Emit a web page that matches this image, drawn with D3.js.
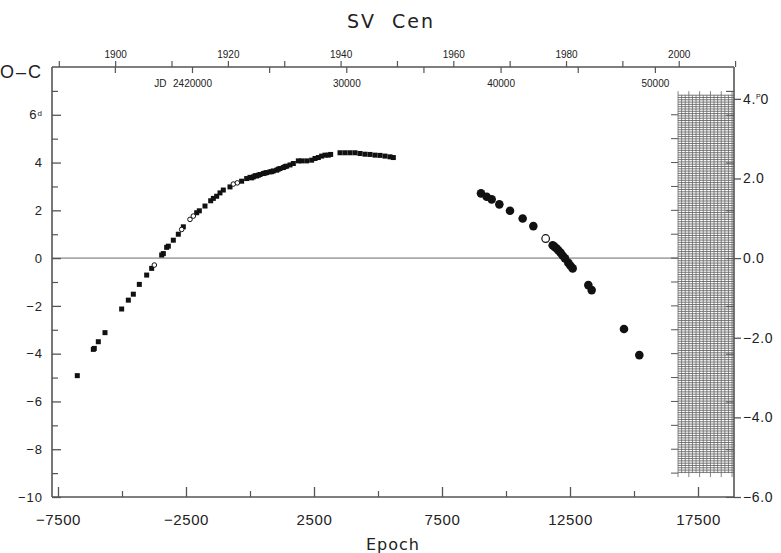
<!DOCTYPE html>
<html>
<head>
<meta charset="utf-8">
<script src="https://cdn.jsdelivr.net/npm/d3@7"></script>
<style>
  body { margin: 0; background: #fff; }
  svg { display: block; font-family: "Liberation Sans", Arial, sans-serif; }
  .axis path, .axis line { stroke: #555; }
  .axis text { fill: #222; }
</style>
</head>
<body>
<div id="chart"></div>
<script>
// filled squares (epoch, O-C in days)
var sqEpoch = [-6746, -6120, -6082, -5925, -5664, -5013, -4752, -4557, -4323, -4036, -3841, -3450, -3385,
  -3255, -3190, -2995, -2800, -2604, -2083, -1979, -1758, -1536, -1432, -1302, -1172, -1042, -781, -326,
  -130, 0, 65, 130, 200, 260, 325, 391, 521, 585, 651, 781, 850, 911, 1042, 1100, 1172, 1302, 1370, 1432,
  1563, 1693, 1888, 2018, 2214, 2409, 2539, 2669, 2799, 2930, 3060, 3150, 3516, 3711, 3906, 4102, 4297,
  4492, 4688, 4883, 5078, 5273, 5469, 5599];
var sqOC = [-4.92, -3.82, -3.78, -3.50, -3.12, -2.13, -1.76, -1.51, -1.10, -0.71, -0.43, 0.13, 0.19,
  0.45, 0.50, 0.75, 1.00, 1.31, 1.90, 1.98, 2.18, 2.40, 2.50, 2.59, 2.73, 2.85, 2.98, 3.22,
  3.33, 3.38, 3.36, 3.40, 3.45, 3.44, 3.47, 3.50, 3.54, 3.56, 3.58, 3.61, 3.62, 3.65, 3.68, 3.72, 3.75, 3.79, 3.83, 3.85,
  3.90, 3.96, 4.07, 4.07, 4.07, 4.10, 4.17, 4.21, 4.27, 4.31, 4.31, 4.34, 4.41, 4.41, 4.41, 4.41, 4.38,
  4.35, 4.34, 4.31, 4.30, 4.27, 4.24, 4.21];

// open (small) symbols
var openEpoch = [-3737, -2669, -2344, -2214, -651, -495];
var openOC = [-0.29, 1.20, 1.62, 1.76, 3.10, 3.15];

// big filled circles
var circEpoch = [9023, 9245, 9440, 9740, 10156, 10651, 11068, 11823, 11900, 11979, 12050, 12135, 12220,
  12305, 12435, 12520, 12604, 13216, 13346, 14609, 15208];
var circOC = [2.71, 2.57, 2.46, 2.25, 1.98, 1.66, 1.34, 0.54, 0.47, 0.40, 0.32, 0.22, 0.10,
  -0.01, -0.20, -0.32, -0.43, -1.13, -1.34, -2.97, -4.06];

// big open circle
var bigOpenEpoch = [11549];
var bigOpenOC = [0.82];

// tick values
var xMajor = [-7500, -2500, 2500, 7500, 12500, 17500];
var xMinor = [-5000, 0, 5000, 10000, 15000];
var yMajor = [-10, -8, -6, -4, -2, 0, 2, 4, 6];
var yMinor = [-9, -7, -5, -3, -1, 1, 3, 5, 7];
var rMajor = [-6, -4, -2, 0, 2, 4];
var years = [1890, 1900, 1910, 1920, 1930, 1940, 1950, 1960, 1970, 1980, 1990, 2000, 2010];
var yearLabels = [1900, 1920, 1940, 1960, 1980, 2000];
var jdTicks = [2415000, 2420000, 2425000, 2430000, 2435000, 2440000, 2445000, 2450000];
var jdLabels = [2420000, 2430000, 2440000, 2450000];

// ephemeris used for the top axes
var T0 = 2423759, P = 1.6592;

var W = 781, H = 553;
var margin = {top: 67, right: 47, bottom: 56, left: 52},
    width = W - margin.left - margin.right,
    height = H - margin.top - margin.bottom;

var svg = d3.select('#chart').append('svg')
    .attr('width', W).attr('height', H);
var g = svg.append('g').attr('transform', `translate(${margin.left},${margin.top})`);

var x = d3.scaleLinear().domain([-7734, 18906]).range([0, width]);
var y = d3.scaleLinear().domain([-10, 8]).range([height, 0]);
var yR = d3.scaleLinear().domain([-6, 4.8]).range([height, 0]);

var epochOfJD = function(jd) { return (jd - T0) / P; };
var jdOfYear = function(yr) { return 2415020.5 + (yr - 1900) * 365.25; };
var jdScale = d3.scaleLinear()
    .domain(x.domain().map(function(e) { return T0 + e * P; }))
    .range([0, width]);
var yearScale = d3.scaleLinear()
    .domain(x.domain().map(function(e) { return 1900 + (T0 + e * P - 2415020.5) / 365.25; }))
    .range([0, width]);

// zero line
g.append('line')
    .attr('x1', 0).attr('x2', width)
    .attr('y1', y(0)).attr('y2', y(0))
    .style('stroke', '#aaa').style('stroke-width', 1.6);

// hatched region on the right
var hx0 = x(16720), hx1 = width, hy0 = y(6.82), hy1 = y(-9.0);
var hatch = g.append('g');
hatch.append('rect')
    .attr('x', hx0).attr('y', hy0).attr('width', hx1 - hx0).attr('height', hy1 - hy0)
    .style('fill', '#fff');
d3.range(hy0, hy1 + 0.1, 2.3).forEach(function(v) {
    hatch.append('line').attr('x1', hx0).attr('x2', hx1).attr('y1', v).attr('y2', v)
        .style('stroke', '#555').style('stroke-width', 0.8);
});
d3.range(hx0, hx1, 3.6).forEach(function(v, i) {
    var ext = (i % 3 == 0) ? 4 : 0;
    hatch.append('line').attr('x1', v).attr('x2', v).attr('y1', hy0 - ext).attr('y2', hy1 + ext)
        .style('stroke', '#666').style('stroke-width', 0.8);
});
d3.range(-9, 7).forEach(function(v) {
    hatch.append('line').attr('x1', hx0 - 7).attr('x2', hx0).attr('y1', y(v)).attr('y2', y(v))
        .style('stroke', '#555').style('stroke-width', 1);
});

// frame lines
var frame = g.append('g').style('stroke', '#555').style('stroke-width', 1.6);
frame.append('line').attr('x1', 0).attr('x2', width).attr('y1', 0).attr('y2', 0);
frame.append('line').attr('x1', 0).attr('x2', width).attr('y1', height).attr('y2', height);
frame.append('line').attr('x1', 0).attr('x2', 0).attr('y1', 0).attr('y2', height);
frame.append('line').attr('x1', width).attr('x2', width).attr('y1', 0).attr('y2', height);

var clean = function(sel) { sel.select('.domain').remove(); };

// left axis
g.append('g').attr('class', 'axis')
    .style('font-size', '13px')
    .call(d3.axisLeft(y).tickValues(yMajor).tickSize(-9).tickPadding(9))
    .call(clean)
    .call(function(s) {
        s.selectAll('line').style('stroke-width', 1.3);
        s.selectAll('text').style('letter-spacing', '1px');
        s.selectAll('.tick').filter(function(d) { return d == 6; }).select('text')
            .append('tspan').attr('dy', '-0.45em').style('font-size', '8px').text('d');
    });
g.append('g').attr('class', 'axis')
    .call(d3.axisLeft(y).tickValues(yMinor).tickSize(-6).tickFormat(''))
    .call(clean)
    .selectAll('line').style('stroke-width', 1.2);

// bottom axis
g.append('g').attr('class', 'axis')
    .attr('transform', `translate(0,${height})`)
    .style('font-size', '15px')
    .call(d3.axisBottom(x).tickValues(xMajor).tickSize(-10).tickPadding(17).tickFormat(d3.format('d')))
    .call(clean)
    .call(function(s) {
        s.selectAll('line').style('stroke-width', 1.3);
        s.selectAll('text').style('letter-spacing', '0.6px');
    });
g.append('g').attr('class', 'axis')
    .attr('transform', `translate(0,${height})`)
    .call(d3.axisBottom(x).tickValues(xMinor).tickSize(-6).tickFormat(''))
    .call(clean)
    .selectAll('line').style('stroke-width', 1.2);

// right axis: inner ticks in days, outer labels in periods
g.append('g').attr('class', 'axis')
    .attr('transform', `translate(${width},0)`)
    .call(d3.axisRight(y).tickValues(yMajor.concat([7])).tickSize(-8).tickFormat(''))
    .call(clean)
    .selectAll('line').style('stroke-width', 1.1);
g.append('g').attr('class', 'axis')
    .attr('transform', `translate(${width},0)`)
    .style('font-size', '14px')
    .call(d3.axisRight(yR).tickValues(rMajor).tickSize(7).tickPadding(2).tickFormat(function(d) { return d3.format('.1f')(d); }))
    .call(clean)
    .call(function(s) {
        s.selectAll('line').style('stroke-width', 1.3);
        s.selectAll('text').style('letter-spacing', '0.6px');
        s.selectAll('.tick').filter(function(d) { return d == 4; }).select('text')
            .text('4.').call(function(t) {
                t.append('tspan').attr('dy', '-5px').style('font-size', '7px').style('letter-spacing', '0px').text('P');
                t.append('tspan').attr('dy', '5px').text('0');
            });
    });

// top axis: years above, JD below
g.append('g').attr('class', 'axis')
    .style('font-size', '10px')
    .call(d3.axisTop(yearScale).tickValues(years.map(function(yr) {
        return 1900 + (jdOfYear(yr) - 2415020.5) / 365.25; })).tickSize(6).tickPadding(3)
        .tickFormat(function(d) { var yr = Math.round(d); return yearLabels.indexOf(yr) >= 0 ? yr : ''; }))
    .call(clean)
    .selectAll('line').style('stroke-width', 1.2);
g.append('g').attr('class', 'axis')
    .style('font-size', '10px')
    .call(d3.axisBottom(jdScale).tickValues(jdTicks.filter(function(d) { return epochOfJD(d) < x.domain()[1]; }))
        .tickSize(6).tickPadding(7)
        .tickFormat(function(d) { return jdLabels.indexOf(d) >= 0 ? (d == 2420000 ? d : String(d).slice(2)) : ''; }))
    .call(clean)
    .call(function(s) {
        s.selectAll('line').style('stroke-width', 1.2);
        s.selectAll('.tick').filter(function(d) { return d == 2420000; })
            .append('text').attr('y', 13).attr('x', -26).attr('dy', '0.71em')
            .attr('text-anchor', 'end').style('fill', '#222').text('JD');
    });

// data
g.selectAll('.sq')
    .data(d3.zip(sqEpoch, sqOC))
    .enter().append('rect')
    .attr('x', function(d) { return x(d[0]) - 2.5; })
    .attr('y', function(d) { return y(d[1]) - 2.5; })
    .attr('width', 5).attr('height', 5)
    .style('fill', '#111');

g.selectAll('.op')
    .data(d3.zip(openEpoch, openOC))
    .enter().append('circle')
    .attr('cx', function(d) { return x(d[0]); })
    .attr('cy', function(d) { return y(d[1]); })
    .attr('r', 2.3)
    .style('fill', '#fff').style('stroke', '#111').style('stroke-width', 1);

g.selectAll('.ci')
    .data(d3.zip(circEpoch, circOC))
    .enter().append('circle')
    .attr('cx', function(d) { return x(d[0]); })
    .attr('cy', function(d) { return y(d[1]); })
    .attr('r', 4.3)
    .style('fill', '#111');

g.selectAll('.oc')
    .data(d3.zip(bigOpenEpoch, bigOpenOC))
    .enter().append('circle')
    .attr('cx', function(d) { return x(d[0]); })
    .attr('cy', function(d) { return y(d[1]); })
    .attr('r', 3.8)
    .style('fill', '#fff').style('stroke', '#111').style('stroke-width', 1.2);

// titles
svg.append('text')
    .attr('x', 391).attr('y', 28)
    .attr('text-anchor', 'middle')
    .style('font-family', '"DejaVu Sans", sans-serif')
    .style('font-size', '19px').style('letter-spacing', '2px')
    .style('fill', '#222')
    .text('SV\u00a0\u00a0Cen');

svg.append('text')
    .attr('x', 0).attr('y', 78)
    .style('font-size', '18px').style('letter-spacing', '2px')
    .style('fill', '#222')
    .text('O\u2013C');

svg.append('text')
    .attr('x', margin.left + width / 2).attr('y', 550)
    .attr('text-anchor', 'middle')
    .style('font-family', '"DejaVu Sans", sans-serif')
    .style('font-size', '16px').style('letter-spacing', '1px')
    .style('fill', '#222')
    .text('Epoch');
</script>
</body>
</html>
